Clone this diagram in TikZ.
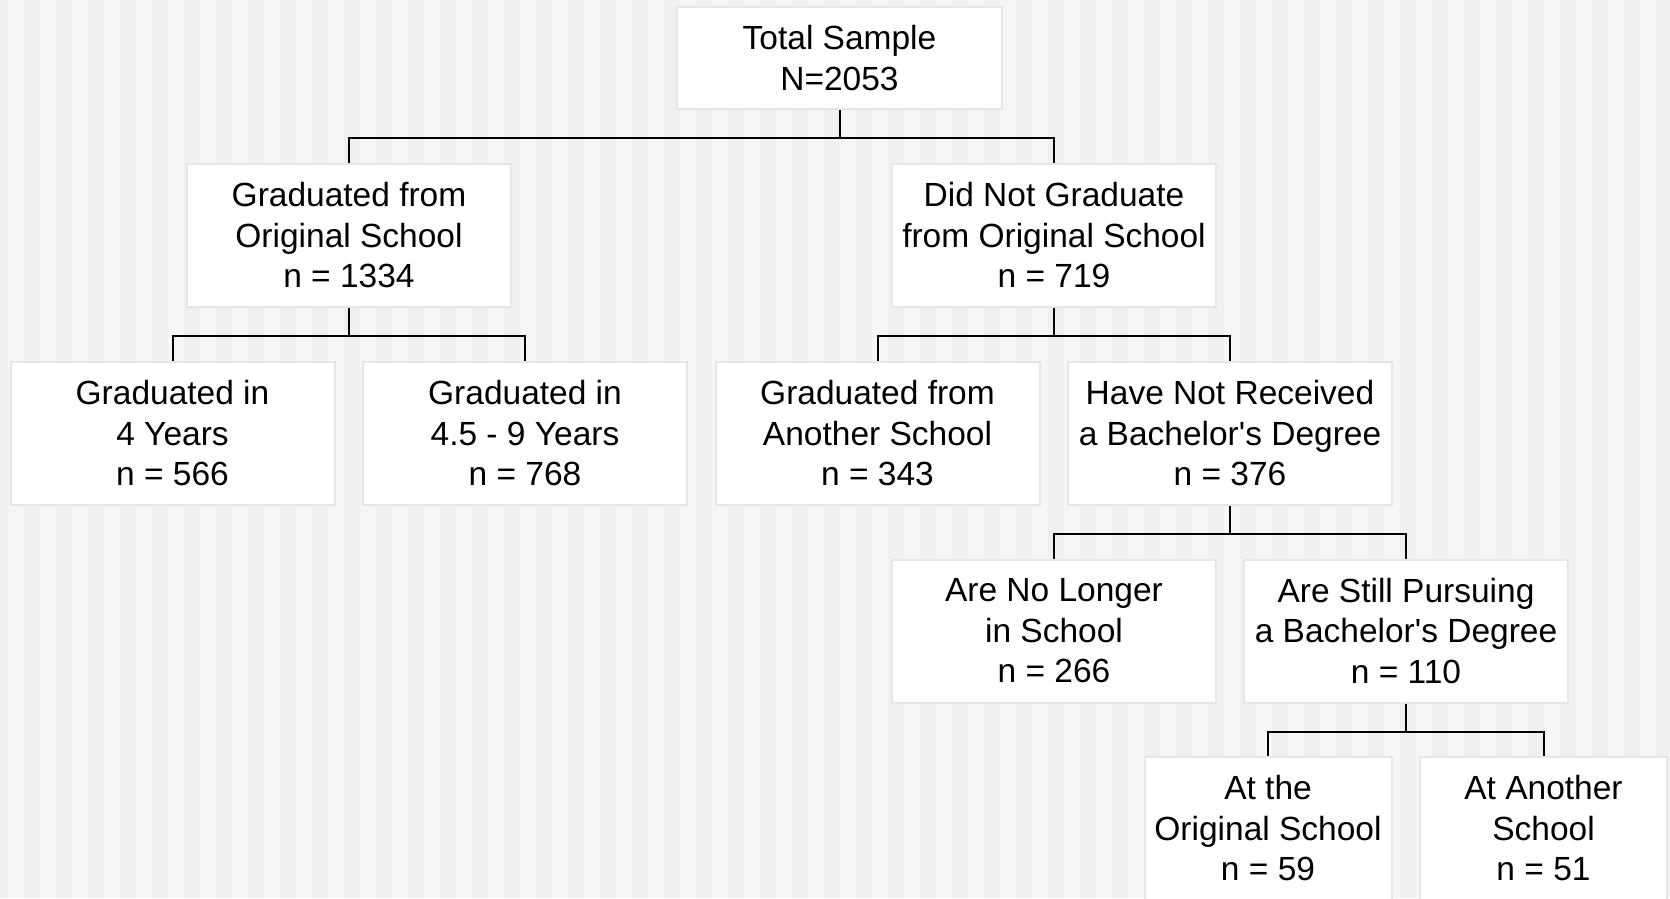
\documentclass[tikz,border=0pt]{standalone}
\usepackage{fontspec}
\setmainfont{Liberation Sans}
\definecolor{bgdark}{HTML}{F0F0F0}
\definecolor{bglight}{HTML}{F6F6F6}
\definecolor{boxborder}{HTML}{E6E6E6}
\tikzset{
  box/.style={rectangle, fill=white, draw=boxborder, line width=2pt,
    minimum width=324pt, minimum height=143pt, inner sep=0pt, align=center,
    font=\fontsize{33.5}{40.5}\selectfont},
  smallbox/.style={box, minimum width=247pt},
  conn/.style={draw=black, line width=2pt},
}
\begin{document}
\begin{tikzpicture}[x=1pt, y=-1pt]
\useasboundingbox (0,0) rectangle (1670,898);
\fill[bgdark] (0,0) rectangle (1670,898);
\foreach \k in {0,...,52} {
  \fill[bglight] ({8+32*\k},0) rectangle ({23.5+32*\k},898);
}
\begin{scope}
\clip (0,0) rectangle (1670,898);
\node[box, minimum width=325pt, minimum height=102pt] (total) at (839.5,58) {Total Sample\\N=2053};
\node[box] (gradorig) at (349,235.5) {Graduated from\\Original School\\n = 1334};
\node[box] (didnot) at (1054,235.5) {Did Not Graduate\\from Original School\\n = 719};
\node[box] (g4) at (172.5,433.5) {Graduated in\\4 Years\\n = 566};
\node[box] (g45) at (525,433.5) {Graduated in\\4.5 - 9 Years\\n = 768};
\node[box] (another) at (877.5,433.5) {Graduated from\\Another School\\n = 343};
\node[box] (notrec) at (1230,433.5) {Have Not Received\\a Bachelor\textquotesingle s Degree\\n = 376};
\node[box] (nolonger) at (1054,631) {Are No Longer\\in School\\n = 266};
\node[box] (still) at (1406,631) {Are Still Pursuing\\a Bachelor\textquotesingle s Degree\\n = 110};
\node[smallbox] (atorig) at (1268,828.5) {At the\\Original School\\n = 59};
\node[smallbox] (atanother) at (1543.5,828.5) {At Another\\School\\n = 51};

\draw[conn] (total.south) -- ++(0,27.5) -| (gradorig.north);
\draw[conn] (total.south) -- ++(0,27.5) -| (didnot.north);
\draw[conn] (gradorig.south) -- ++(0,27.5) -| (g4.north);
\draw[conn] (gradorig.south) -- ++(0,27.5) -| (g45.north);
\draw[conn] (didnot.south) -- ++(0,27.5) -| (another.north);
\draw[conn] (didnot.south) -- ++(0,27.5) -| (notrec.north);
\draw[conn] (notrec.south) -- ++(0,27.5) -| (nolonger.north);
\draw[conn] (notrec.south) -- ++(0,27.5) -| (still.north);
\draw[conn] (still.south) -- ++(0,28) -| (atorig.north);
\draw[conn] (still.south) -- ++(0,28) -| (atanother.north);
\end{scope}
\end{tikzpicture}
\end{document}
